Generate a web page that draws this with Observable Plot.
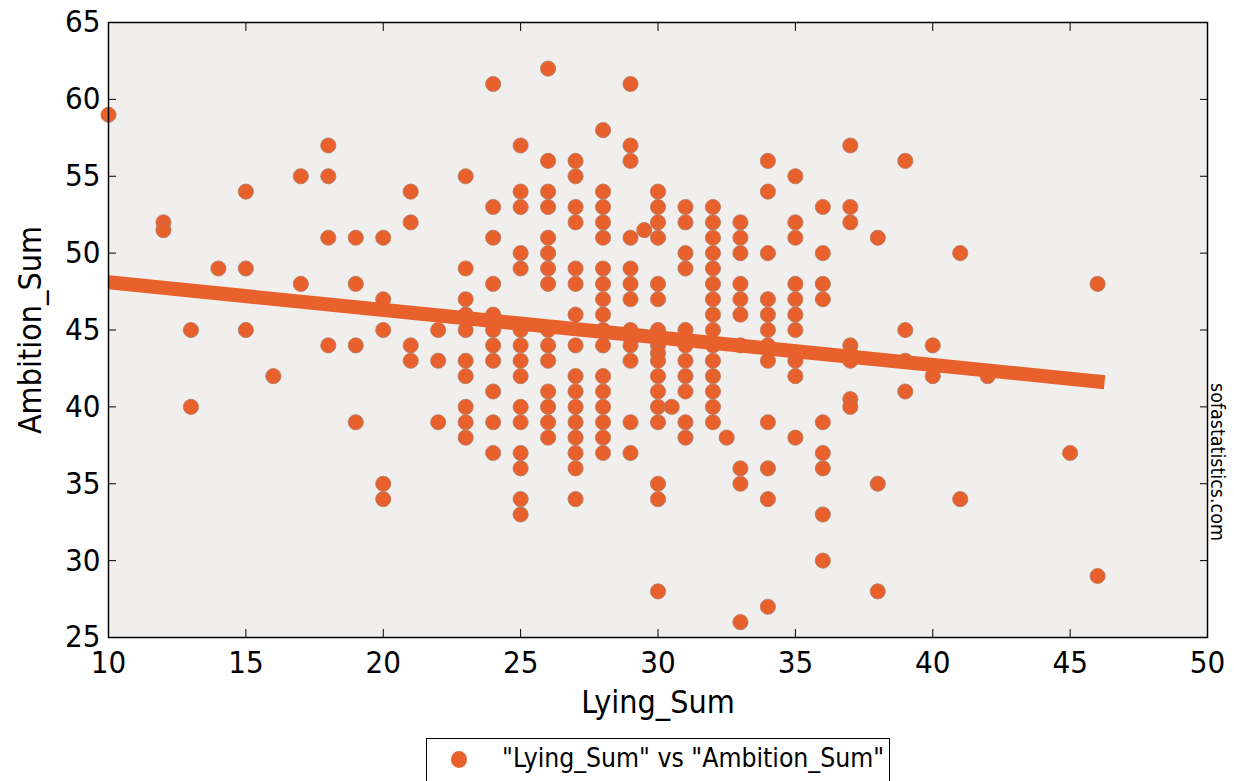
<!DOCTYPE html>
<html>
<head>
<meta charset="utf-8">
<script src="https://cdn.jsdelivr.net/npm/d3@7"></script>
<script src="https://cdn.jsdelivr.net/npm/@observablehq/plot@0.6"></script>
<style>
  html, body { margin: 0; padding: 0; background: #ffffff; }
  #wrap { position: relative; width: 1234px; height: 781px; overflow: hidden; }
  #legend {
    position: absolute; left: 426px; top: 738px; width: 464px; height: 56px;
    border: 1.5px solid #000; box-sizing: border-box; background: #fff;
    font-family: "DejaVu Sans Condensed", "DejaVu Sans", sans-serif; font-size: 26.3px; color: #000;
  }
  #legend .dot { position: absolute; left: 24px; top: 12px; width: 16px; height: 17px; border-radius: 50%; }
  #legend .txt { position: absolute; left: 75px; top: 4px; white-space: nowrap; }
</style>
</head>
<body>
<div id="wrap"><div id="chart"></div><div id="legend"><span class="dot"></span><span class="txt"></span></div></div>
<script>
// ---- data ----
const xLabel = "Lying_Sum";
const yLabel = "Ambition_Sum";
const legendLabel = "\"Lying_Sum\" vs \"Ambition_Sum\"";
const watermark = "sofastatistics.com";

const xTicks = [10, 15, 20, 25, 30, 35, 40, 45, 50];
const yTicks = [25, 30, 35, 40, 45, 50, 55, 60, 65];

// Lying_Sum values (one per column of points)
const lyingValues = [10, 12, 13, 14, 15, 16, 17, 18, 19, 20, 21, 22, 23, 24, 25, 26, 27, 28, 29, 29.5, 30, 30.5, 31, 32, 32.5, 33, 34, 35, 36, 37, 38, 39, 40, 41, 42, 45, 46];
// Ambition_Sum values observed at each Lying_Sum value above
const ambitionValues = [
  [59],
  [52, 51.5],
  [45, 40],
  [49],
  [54, 49, 45],
  [42],
  [55, 48],
  [57, 55, 51, 44],
  [51, 48, 44, 39],
  [51, 47, 45, 35, 34],
  [54, 52, 44, 43],
  [45, 43, 39],
  [55, 49, 47, 46, 45, 43, 42, 40, 39, 38],
  [61, 53, 51, 48, 46, 45, 44, 43, 41, 39, 37],
  [57, 54, 53, 50, 49, 45, 44, 43, 42, 40, 39, 37, 36, 34, 33],
  [62, 56, 54, 53, 51, 50, 49, 48, 45, 44, 43, 41, 40, 39, 38],
  [56, 55, 53, 52, 49, 48, 46, 44, 42, 41, 40, 39, 38, 37, 36, 34],
  [58, 54, 53, 52, 51, 49, 48, 47, 46, 45, 44, 42, 41, 40, 39, 38, 37],
  [61, 57, 56, 51, 49, 48, 47, 45, 44, 43, 39, 37],
  [51.5],
  [54, 53, 52, 51, 48, 47, 45, 44.5, 44, 43.5, 43, 42, 41, 40, 39, 35, 34, 28],
  [40],
  [53, 52, 50, 49, 45, 44, 43, 42, 41, 39, 38],
  [53, 52, 51, 50, 49, 48, 47, 46, 45, 44, 43, 42, 41, 40, 39],
  [38],
  [52, 51, 50, 48, 47, 46, 44, 36, 35, 26],
  [56, 54, 50, 47, 46, 45, 44, 43, 39, 36, 34, 27],
  [55, 52, 51, 48, 47, 46, 45, 43, 42, 38],
  [53, 50, 48, 47, 39, 37, 36, 33, 30],
  [57, 53, 52, 44, 43.5, 43, 40.5, 40],
  [51, 35, 28],
  [56, 45, 43, 41],
  [44, 42],
  [50, 34],
  [42],
  [37],
  [48, 29]
];

// fitted trend line end points
const trendX = [10, 46];
const trendY = [48.1, 41.65];

// ---- styles ----
const dotColor = "#e8602b";
const plotBg = "#f1efed";
const fontFamily = "'DejaVu Sans Condensed', 'DejaVu Sans', sans-serif";

// ---- build tables ----
const points = lyingValues.flatMap((x, i) => ambitionValues[i].map(y => ({lying: x, ambition: y})));
const trend = trendX.map((x, i) => ({lying: x, ambition: trendY[i]}));
const blank = () => "";

const chart = Plot.plot({
  width: 1234,
  height: 728,
  marginLeft: 108,
  marginRight: 27,
  marginTop: 22,
  marginBottom: 91,
  style: {fontFamily, background: "white", color: "black"},
  x: {domain: [10, 50]},
  y: {domain: [25, 65]},
  marks: [
    Plot.frame({fill: plotBg}),
    Plot.dot(points, {x: "lying", y: "ambition", r: 7.6, fill: dotColor, stroke: "#b07a66", strokeWidth: 0.8}),
    Plot.line(trend, {x: "lying", y: "ambition", stroke: dotColor, strokeWidth: 14, strokeLinecap: "square", clip: true}),
    Plot.frame({stroke: "black", strokeWidth: 1.5}),
    Plot.axisX(xTicks, {anchor: "bottom", tickSize: -8, tickPadding: 21, fontSize: 31, label: null, stroke: "black"}),
    Plot.axisX(xTicks, {anchor: "top", tickSize: -8, tickFormat: blank, label: null, stroke: "black"}),
    Plot.axisY(yTicks, {anchor: "left", tickSize: -8, tickPadding: 16, fontSize: 31, label: null, stroke: "black"}),
    Plot.axisY(yTicks, {anchor: "right", tickSize: -8, tickFormat: blank, label: null, stroke: "black"}),
    Plot.text([xLabel], {frameAnchor: "bottom", textAnchor: "middle", dy: 75, fontSize: 32, fill: "black"}),
    Plot.text([yLabel], {frameAnchor: "left", textAnchor: "middle", rotate: -90, dx: -78, fontSize: 32, fill: "black"}),
    Plot.text([watermark], {frameAnchor: "right", textAnchor: "middle", rotate: 90, dx: 10, dy: 132, fontSize: 19.5, fill: "black"})
  ]
});
document.getElementById("chart").appendChild(chart);
document.querySelector("#legend .dot").style.background = dotColor;
document.querySelector("#legend .txt").textContent = legendLabel;
</script>
</body>
</html>
